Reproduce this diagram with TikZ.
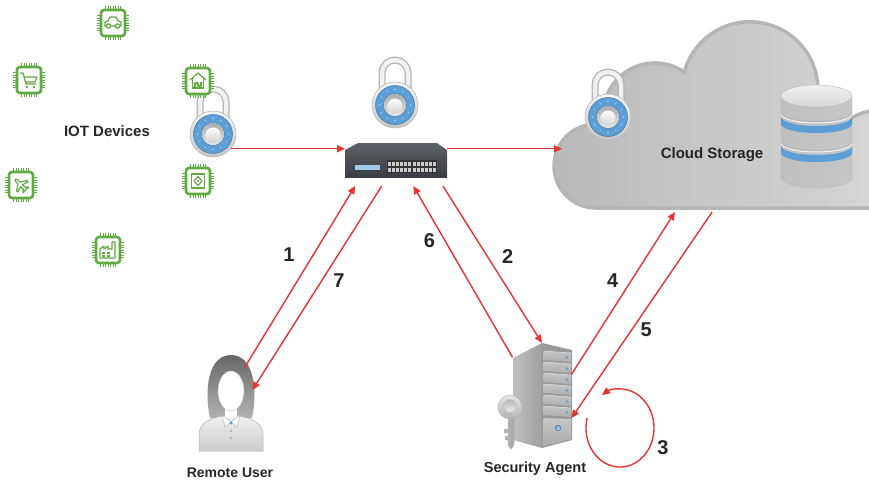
\documentclass[tikz,border=0pt]{standalone}
\usepackage{fontspec}
\setsansfont{Liberation Sans}
\usetikzlibrary{positioning}
\usetikzlibrary{calc}
\usetikzlibrary{arrows.meta}
\definecolor{flowred}{RGB}{232,50,45}
\definecolor{chipgreen}{RGB}{96,170,66}
\definecolor{lockblue}{RGB}{92,158,214}
\definecolor{swtop}{RGB}{90,94,100}
\definecolor{swfront}{RGB}{58,61,67}
\tikzset{
    every picture/.append style={
        >={Triangle[length=8pt,width=7pt]}
    }
}
\tikzset{
    hub/.style={inner sep=0pt, outer sep=0pt},
    lbl/.style={font=\sffamily\bfseries\fontsize{15}{18}\selectfont, text=black!85, inner sep=0pt, text depth=0pt},
    num/.style={font=\sffamily\bfseries\fontsize{20}{24}\selectfont, text=black!85, inner sep=0pt},
    flow/.style={->, draw=flowred, line width=1.4pt},
    glyph/.style={draw=chipgreen, line width=1.2pt, line join=round},
}
% small green chips with a glyph inside
\tikzset{
    chip/.pic={
        \foreach \p in {-7.5,-5,...,7.5}{
            \draw[chipgreen, line width=1pt] (\p,-13) -- (\p,-17) (\p,13) -- (\p,17)
                (-12,\p) -- (-16,\p) (12,\p) -- (16,\p);
        }
        \draw[chipgreen, line width=2.6pt, rounded corners=3pt, fill=white] (-12,-13) rectangle (12,13);
        \pic {g#1};
    },
    gcar/.pic={
        \draw[glyph] (-8,3) -- (-8,-1) -- (-5,-2) -- (-3,-6) -- (3,-6) -- (5,-2) -- (8,-1) -- (8,3) -- cycle;
        \filldraw[glyph, fill=white] (-4.5,3) circle (2.2) (4.5,3) circle (2.2);
    },
    gcart/.pic={
        \draw[glyph] (-9,-7) -- (-6,-7) -- (-3,4) -- (7,4);
        \draw[glyph] (-5,-3) -- (8,-3) -- (6,2) -- (-3.5,2);
        \fill[chipgreen] (-2,7) circle (1.4) (5,7) circle (1.4);
    },
    ghome/.pic={
        \draw[glyph] (-8,-1) -- (0,-8) -- (8,-1);
        \draw[glyph] (-5.5,-3) -- (-5.5,7) -- (5.5,7) -- (5.5,-3);
        \draw[glyph] (-3,7) -- (-3,2) -- (0,2) -- (0,5) -- (3,5) -- (3,1);
    },
    gplane/.pic={
        \draw[glyph, rotate=45, scale=.9] (0,-9) .. controls (1.5,-8) .. (1.5,-3) -- (8,1) -- (8,3) -- (1.5,1)
            -- (1.5,5) -- (4,7) -- (4,8) -- (0,7) -- (-4,8) -- (-4,7) -- (-1.5,5) -- (-1.5,1)
            -- (-8,3) -- (-8,1) -- (-1.5,-3) .. controls (-1.5,-8) .. (0,-9) -- cycle;
    },
    gpanel/.pic={
        \draw[glyph] (-6.5,-7) rectangle (6.5,7);
        \draw[glyph] (0,-4.5) -- (4,0) -- (0,4.5) -- (-4,0) -- cycle;
        \fill[chipgreen] (0,0) circle (1.2);
    },
    gplant/.pic={
        \draw[glyph] (-8,8) -- (-8,-1) -- (-4,-4) -- (-4,-1) -- (0,-4) -- (0,-1) -- (4,-1) -- (4,-8)
            -- (7,-8) -- (7,8) -- cycle;
        \draw[glyph] (-6,3) -- (-3,3) (-1,3) -- (2,3) (-6,6) -- (-3,6) (-1,6) -- (2,6);
    },
}
% padlock, switch, server and user icons
\tikzset{
    padlock/.pic={
        \draw[line width=7pt, gray!60] (-13,-8) -- (-13,-32) arc[start angle=180, end angle=360, radius=13] -- (13,-8);
        \draw[line width=4.5pt, gray!12] (-13,-8) -- (-13,-32) arc[start angle=180, end angle=360, radius=13] -- (13,-8);
        \shadedraw[top color=gray!8, bottom color=gray!45, draw=gray!55, line width=.6pt] (0,0) circle (23);
        \draw[line width=8pt, lockblue] (0,0) circle (15.5);
        \draw[lockblue!75!black, line width=.5pt] (0,0) circle (19.5) (0,0) circle (11.5);
        \foreach \a in {0,30,...,330} \fill[white, opacity=.55] (\a:15.5) circle (.8);
        \shade[top color=gray!65, bottom color=gray!20] (0,0) circle (11);
        \shade[top color=white, bottom color=gray!35] (0,1) circle (7.5);
        \node[hub, circle, minimum size=46pt] (-body) {};
    },
    netswitch/.pic={
        \fill[swtop] (-38,-20.5) -- (41,-20.5) -- (51,-13.5) -- (-51,-13.5) -- cycle;
        \shade[top color=swfront!85!white, bottom color=swfront] (-51,-13.5) rectangle (51,13.5);
        \fill[lockblue!55] (-41,1.5) rectangle (-16,6.5);
        \foreach \g in {-9,16}{
            \fill[black!80] (\g,-3.5) rectangle ++(25,13);
            \foreach \c in {0,...,5}
                \foreach \r in {0,1}
                    \fill[gray!40] (\g+1+\c*4,-2+\r*6) rectangle ++(3,4.5);
        }
        \node[hub, minimum width=102pt, minimum height=45pt] (-box) {};
    },
    server/.pic={
        \shade[left color=gray!50, right color=gray!75] (-29,-37) -- (0,-52) -- (0,53) -- (-29,45) -- cycle;
        \fill[gray!80] (0,-52) -- (30,-45) -- (30,45) -- (0,53) -- cycle;
        \foreach \s in {0,...,5}{
            \shade[top color=gray!45, bottom color=gray!65] (1.5,-44+\s*11) -- (29,-42+\s*11)
                -- (29,-33+\s*11) -- (1.5,-35+\s*11) -- cycle;
            \draw[gray!25, line width=.5pt] (1.5,-44+\s*11) -- (29,-42+\s*11);
            \fill[lockblue] (25,-37.5+\s*11) circle (1.4);
        }
        \shade[top color=gray!45, bottom color=gray!65] (1.5,23) -- (29,24) -- (29,44) -- (1.5,51) -- cycle;
        \shadedraw[inner color=lockblue!40, outer color=lockblue, draw=lockblue!60!black, line width=.3pt] (16,33) circle (2.8);
        % key in front of the tower
        \shadedraw[left color=gray!60, right color=gray!70, draw=gray!60] (-34,16) -- (-28,16) -- (-28,50)
            -- (-31,54) -- (-34,50) -- cycle;
        \fill[gray!60] (-34,34) rectangle (-38,38) (-34,41) rectangle (-37,45);
        \shadedraw[top color=gray!20, bottom color=gray!60, draw=gray!60] (-32,12) circle (12);
        \shadedraw[top color=gray!55, bottom color=gray!15, draw=gray!55] (-32,11) circle (6.5);
        \node[hub, minimum width=59pt, minimum height=104pt] (-box) {};
    },
    remoteuser/.pic={
        \shade[top color=gray!80!black, bottom color=gray!60] (-21,33) .. controls (-27,5) and (-23,-30) .. (0,-30)
            .. controls (23,-30) and (27,5) .. (21,33) -- cycle;
        \shadedraw[top color=gray!12, bottom color=gray!40, draw=gray!60, line width=.5pt] (-32,66) -- (-32,50)
            .. controls (-32,38) and (-22,34) .. (-9,31) -- (9,31) .. controls (22,34) and (32,38) .. (32,50)
            -- (32,66) -- cycle;
        \fill[white] (-6,20) rectangle (6,33);
        \filldraw[white, draw=gray!50] (0,6) ellipse [x radius=13, y radius=20];
        \filldraw[fill=white, draw=gray!60] (-9,30) -- (0,37) -- (-6,42) -- cycle;
        \filldraw[fill=white, draw=gray!60] (9,30) -- (0,37) -- (6,42) -- cycle;
        \fill[lockblue] (0,38) circle (1.7);
        \fill[gray!60] (0,46) circle (1.1) (0,53) circle (1.1);
        \node[hub, circle, minimum size=44pt] (-head) {};
    },
}

\begin{document}
\begin{tikzpicture}[x=1pt, y=-1pt]
    \useasboundingbox (0,0) rectangle (869,483);

    % cloud storage
    \begin{scope}
        \clip (0,0) rectangle (869,483);
        \shadedraw[left color=gray!55, middle color=gray!14, right color=gray!28, draw=gray!58, line width=3.5pt]
            (596,208) arc[start angle=90, end angle=280.9, radius=42]
            arc[start angle=169.1, end angle=304.3, radius=52]
            arc[start angle=195.2, end angle=360, radius=68]
            -- (848.5,120) arc[start angle=235, end angle=360, radius=55]
            -- (935,208) -- cycle;
    \end{scope}
    \node[hub, minimum width=307pt, minimum height=192pt] (cloud) at (715.5,116) {};

    % database stack
    \shadedraw[left color=gray!50, middle color=gray!8, right color=gray!45, draw=gray!55]
        (781,96) -- (781,177) arc[start angle=180, end angle=0, x radius=35.5, y radius=11] -- (852,96) -- cycle;
    \foreach \b in {117,146}{
        \draw[gray!10, line width=1pt] (781,\b-3) arc[start angle=180, end angle=0, x radius=35.5, y radius=9];
        \draw[gray!60, line width=.5pt] (781,\b-4.5) arc[start angle=180, end angle=0, x radius=35.5, y radius=9];
        \fill[lockblue] (781,\b) arc[start angle=180, end angle=0, x radius=35.5, y radius=9]
            -- (852,\b+7) arc[start angle=0, end angle=180, x radius=35.5, y radius=9] -- cycle;
    }
    \shadedraw[top color=gray!12, bottom color=gray!30, draw=gray!55] (816.5,96) ellipse [x radius=35.5, y radius=11];

    \pic (lockC) at (608,117) {padlock};
    \node[lbl] (store) at (712,153) {Cloud Storage};

    % iot devices
    \pic (lockA) at (213,134) {padlock};
    \pic at (113,23) {chip=car};
    \pic at (29,80) {chip=cart};
    \pic at (198,81) {chip=home};
    \pic at (21,185) {chip=plane};
    \pic at (198,181) {chip=panel};
    \pic at (108,250) {chip=plant};
    \node[lbl] (iot) at (107,131) {IOT Devices};

    % gateway switch
    \pic (lockB) at (395,105) {padlock};
    \pic (sw) at (396,163.5) {netswitch};

    % agent and user
    \pic (srv) at (542,395) {server};
    \node[lbl, font=\sffamily\bfseries\fontsize{14.5}{17}\selectfont] (agent) at (535,467) {Security Agent};
    \pic (user) at (231,385) {remoteuser};
    \node[lbl, font=\sffamily\bfseries\fontsize{14}{17}\selectfont] (ruser) at (230,473) {Remote User};

    % message flow
    \draw[flow] (lockA-body.-40) -- (lockA-body.-40 -| sw-box.west);
    \draw[flow] (lockA-body.-40 -| sw-box.east) -- (lockA-body.-40 -| cloud.west);
    \draw[flow] (user-head.52) -- node[num, pos=.62, left=18pt] (n1) {1}
        ($(sw-box.south west)!.1!(sw-box.south east)$);
    \draw[flow] ($(sw-box.south west)!.96!(sw-box.south east)$) -- node[num, pos=.45, right=14pt] (n2) {2}
        (srv-box.north);
    \draw[flow] (srv-box.35) -- node[num, pos=.58, left=12.5pt] (n4) {4}
        ($(cloud.south west)!.368!(cloud.south east)$);
    \draw[flow] ($(cloud.south west)!.489!(cloud.south east)$) -- node[num, pos=.57, right=8pt] (n5) {5}
        (srv-box.-38);
    \draw[flow] (srv-box.128) -- node[num, pos=.68, left=9.5pt] (n6) {6}
        ($(sw-box.south west)!.67!(sw-box.south east)$);
    \draw[flow] ($(sw-box.south west)!.36!(sw-box.south east)$) -- node[num, pos=.465, right=11pt] (n7) {7}
        (user-head.-13);

    % agent works on its own
    \coordinate (loop) at (620,428);
    \draw[flow] ([shift={(195:34 and 39)}]loop) arc[start angle=195, end angle=-122, x radius=34, y radius=39];
    \node[num] (n3) at (663,448) {3};
\end{tikzpicture}
\end{document}
